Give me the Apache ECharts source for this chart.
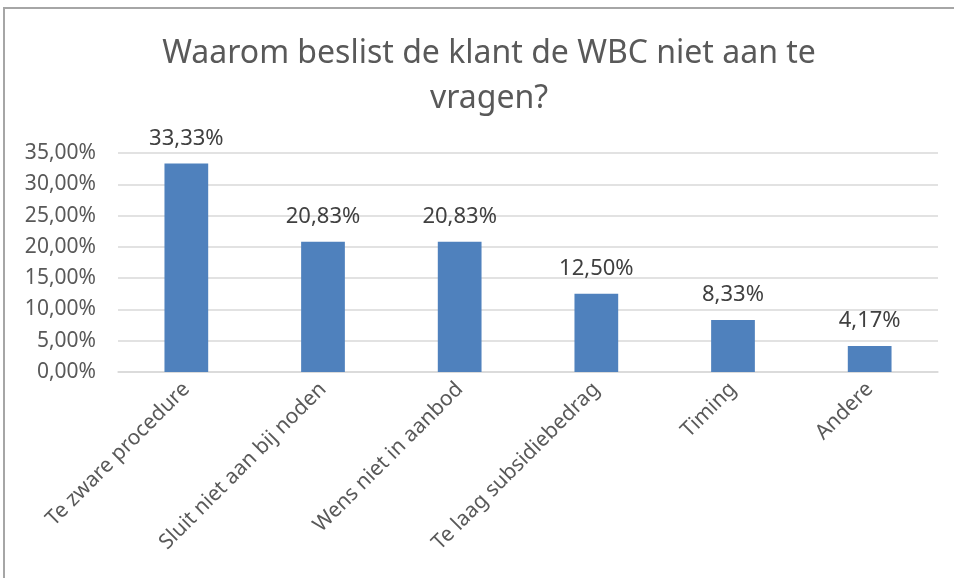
<!DOCTYPE html>
<html>
<head>
<meta charset="UTF-8">
<title>WBC</title>
<script src="https://cdn.jsdelivr.net/npm/echarts@6/dist/echarts.min.js"></script>
<style>
    body { margin: 0; background: #ffffff; }
    #chart { width: 954px; height: 578px; }
</style>
</head>
<body>
<div id="chart"></div>
<script>
    const titleText = 'Waarom beslist de klant de WBC niet aan te\nvragen?';
    const categories = ['Te zware procedure', 'Sluit niet aan bij noden', 'Wens niet in aanbod', 'Te laag subsidiebedrag', 'Timing', 'Andere'];
    const values = [33.33, 20.83, 20.83, 12.50, 8.33, 4.17];

    const pct = v => v.toFixed(2).replace('.', ',') + '%';
    const font = "'Noto Sans', sans-serif";

    const myChart = echarts.init(document.getElementById('chart'));
    myChart.setOption({
        animation: false,
        backgroundColor: '#ffffff',
        graphic: [{
            type: 'rect',
            shape: { x: 4, y: 8, width: 960, height: 600 },
            style: { fill: 'none', stroke: '#a6a6a6', lineWidth: 2 }
        }],
        title: {
            text: titleText,
            left: 484,
            textAlign: 'center',
            top: 26,
            textStyle: {
                fontFamily: font,
                fontSize: 32,
                fontWeight: 'normal',
                color: '#595959',
                lineHeight: 45
            }
        },
        grid: { left: 118, right: 16, top: 153, bottom: 206 },
        xAxis: {
            type: 'category',
            data: categories,
            axisLine: { lineStyle: { color: '#d9d9d9', width: 1.5 } },
            axisTick: { show: false },
            axisLabel: {
                rotate: 45,
                interval: 0,
                margin: 14,
                fontFamily: font,
                fontSize: 21,
                color: '#595959'
            }
        },
        yAxis: {
            type: 'value',
            min: 0,
            max: 35,
            interval: 5,
            axisLine: { show: false },
            axisTick: { show: false },
            splitLine: { lineStyle: { color: '#d9d9d9', width: 1.5 } },
            axisLabel: {
                formatter: v => pct(v),
                margin: 22,
                fontFamily: font,
                fontSize: 21,
                color: '#595959'
            }
        },
        series: [{
            type: 'bar',
            data: values,
            barWidth: '32%',
            itemStyle: { color: '#4f81bd' },
            label: {
                show: true,
                position: 'top',
                distance: 14,
                formatter: p => pct(p.value),
                fontFamily: font,
                fontSize: 22,
                color: '#404040'
            }
        }]
    });
</script>
</body>
</html>
